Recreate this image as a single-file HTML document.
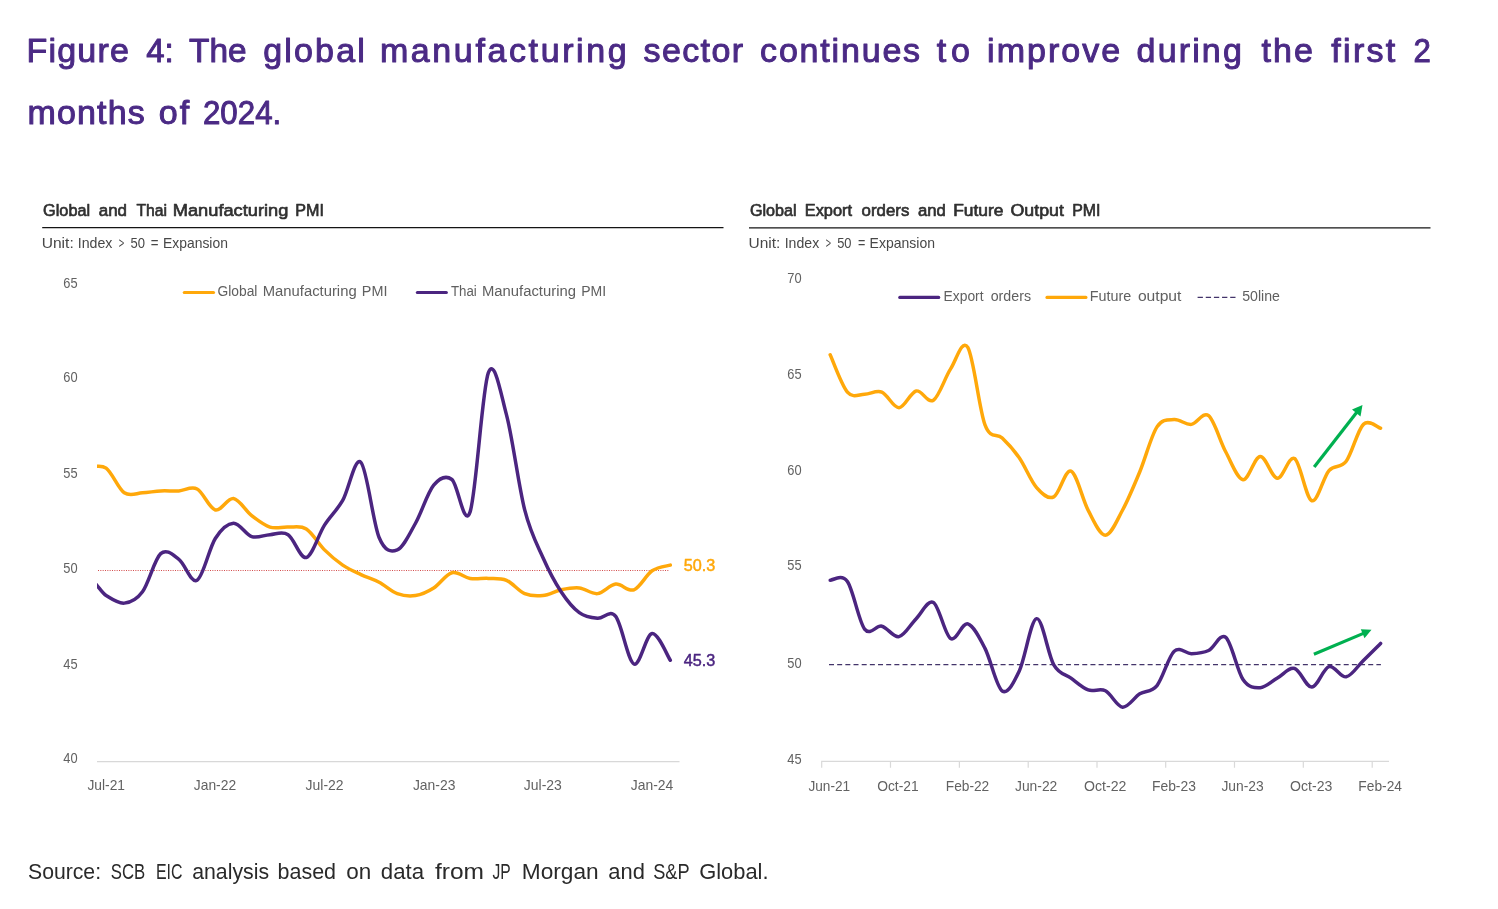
<!DOCTYPE html>
<html lang="en">
<head>
<meta charset="utf-8">
<title>Figure 4: The global manufacturing sector continues to improve during the first 2 months of 2024.</title>
<style>
html,body{margin:0;padding:0;background:#fff;}
body{width:1498px;height:909px;overflow:hidden;font-family:"Liberation Sans",sans-serif;}
svg{display:block;}
text{font-family:"Liberation Sans",sans-serif;white-space:pre;}
.ttl{font-size:34px;fill:#4b2a85;stroke:#4b2a85;stroke-width:1.0px;stroke-linejoin:round;}
.ct{font-size:16.3px;fill:#303030;stroke:#303030;stroke-width:0.65px;stroke-linejoin:round;}
.unit{font-size:14.2px;fill:#484848;}
.ax{font-size:14.8px;fill:#626262;}
.lg{font-size:15.2px;fill:#606060;}
.src{font-size:21.5px;fill:#2a2a2a;}
.val{font-size:17.2px;stroke-width:0.5px;stroke-linejoin:round;}
.vy{fill:#ffa80a;stroke:#ffa80a;}
.vp{fill:#4b2580;stroke:#4b2580;}
</style>
</head>
<body>
<svg width="1498" height="909" viewBox="0 0 1498 909">
<rect width="1498" height="909" fill="#fff"/>

<!-- Title -->
<text class="ttl" y="61.7"><tspan x="26.50" style="letter-spacing:1.207px">Figure</tspan> <tspan x="146.30" textLength="27.47" lengthAdjust="spacingAndGlyphs">4:</tspan> <tspan x="189.10" textLength="57.59" lengthAdjust="spacingAndGlyphs">The</tspan> <tspan x="263.20" style="letter-spacing:2.182px">global</tspan> <tspan x="379.90" style="letter-spacing:2.613px">manufacturing</tspan> <tspan x="643.50" style="letter-spacing:1.387px">sector</tspan> <tspan x="760.10" style="letter-spacing:1.807px">continues</tspan> <tspan x="936.70" style="letter-spacing:4.954px">to</tspan> <tspan x="987.10" style="letter-spacing:2.031px">improve</tspan> <tspan x="1136.60" style="letter-spacing:2.139px">during</tspan> <tspan x="1261.50" style="letter-spacing:2.072px">the</tspan> <tspan x="1331.30" style="letter-spacing:2.294px">first</tspan> <tspan x="1413.48" textLength="17.35" lengthAdjust="spacingAndGlyphs">2</tspan></text>
<text class="ttl" y="124.2"><tspan x="27.50" style="letter-spacing:1.141px">months</tspan> <tspan x="158.80" style="letter-spacing:2.091px">of</tspan> <tspan x="202.98" textLength="78.27" lengthAdjust="spacingAndGlyphs">2024.</tspan></text>

<!-- Left chart -->
<g id="left">
<line x1="42.2" y1="227.6" x2="723.5" y2="227.6" stroke="#141414" stroke-width="1.3"/>
<line x1="97" y1="761.6" x2="679.5" y2="761.6" stroke="#d8d8d8" stroke-width="1.15"/>
<line x1="98" y1="570.5" x2="669.5" y2="570.5" stroke="#d24a4a" stroke-width="1" stroke-dasharray="1 1.3333"/>
<line x1="184.3" y1="292.5" x2="213.5" y2="292.5" stroke="#ffa80a" stroke-width="3.2" stroke-linecap="round"/>
<line x1="417.4" y1="292.5" x2="446.3" y2="292.5" stroke="#4b2580" stroke-width="3.2" stroke-linecap="round"/>
<text class="ct" y="216.4"><tspan x="43.12" textLength="46.97" lengthAdjust="spacingAndGlyphs">Global</tspan> <tspan x="98.73" textLength="28.25" lengthAdjust="spacingAndGlyphs">and</tspan> <tspan x="136.52" textLength="30.55" lengthAdjust="spacingAndGlyphs">Thai</tspan> <tspan x="172.81" textLength="115.55" lengthAdjust="spacingAndGlyphs">Manufacturing</tspan> <tspan x="295.33" textLength="28.66" lengthAdjust="spacingAndGlyphs">PMI</tspan></text>
<text class="unit" y="247.5"><tspan x="41.70" textLength="32.03" lengthAdjust="spacingAndGlyphs">Unit:</tspan> <tspan x="77.70" textLength="34.69" lengthAdjust="spacingAndGlyphs">Index</tspan> <tspan x="118.70" textLength="5.49" lengthAdjust="spacingAndGlyphs">&gt;</tspan> <tspan x="130.40" textLength="14.50" lengthAdjust="spacingAndGlyphs">50</tspan> <tspan x="150.70" textLength="7.77" lengthAdjust="spacingAndGlyphs">=</tspan> <tspan x="163.02" textLength="64.85" lengthAdjust="spacingAndGlyphs">Expansion</tspan></text>
<text class="ax" y="287.7"><tspan x="63.30" textLength="14.30" lengthAdjust="spacingAndGlyphs">65</tspan></text>
<text class="ax" y="381.9"><tspan x="63.30" textLength="14.30" lengthAdjust="spacingAndGlyphs">60</tspan></text>
<text class="ax" y="477.9"><tspan x="63.30" textLength="14.30" lengthAdjust="spacingAndGlyphs">55</tspan></text>
<text class="ax" y="573.1"><tspan x="63.30" textLength="14.30" lengthAdjust="spacingAndGlyphs">50</tspan></text>
<text class="ax" y="668.6"><tspan x="63.30" textLength="14.30" lengthAdjust="spacingAndGlyphs">45</tspan></text>
<text class="ax" y="763.1"><tspan x="63.30" textLength="14.30" lengthAdjust="spacingAndGlyphs">40</tspan></text>
<text class="ax" y="790.2"><tspan x="87.40" textLength="37.61" lengthAdjust="spacingAndGlyphs">Jul-21</tspan></text>
<text class="ax" y="790.2"><tspan x="193.80" textLength="42.31" lengthAdjust="spacingAndGlyphs">Jan-22</tspan></text>
<text class="ax" y="790.2"><tspan x="305.60" textLength="38.02" lengthAdjust="spacingAndGlyphs">Jul-22</tspan></text>
<text class="ax" y="790.2"><tspan x="412.90" textLength="42.52" lengthAdjust="spacingAndGlyphs">Jan-23</tspan></text>
<text class="ax" y="790.2"><tspan x="523.80" textLength="38.02" lengthAdjust="spacingAndGlyphs">Jul-23</tspan></text>
<text class="ax" y="790.2"><tspan x="630.80" textLength="42.52" lengthAdjust="spacingAndGlyphs">Jan-24</tspan></text>
<text class="lg" y="296.1"><tspan x="217.50" textLength="39.94" lengthAdjust="spacingAndGlyphs">Global</tspan> <tspan x="262.72" textLength="93.91" lengthAdjust="spacingAndGlyphs">Manufacturing</tspan> <tspan x="361.85" textLength="25.60" lengthAdjust="spacingAndGlyphs">PMI</tspan></text>
<text class="lg" y="296.1"><tspan x="450.90" textLength="25.83" lengthAdjust="spacingAndGlyphs">Thai</tspan> <tspan x="482.02" textLength="93.91" lengthAdjust="spacingAndGlyphs">Manufacturing</tspan> <tspan x="581.18" textLength="24.95" lengthAdjust="spacingAndGlyphs">PMI</tspan></text>
<text class="val vy" y="570.8"><tspan x="683.75" textLength="31.53" lengthAdjust="spacingAndGlyphs">50.3</tspan></text>
<text class="val vp" y="665.5"><tspan x="683.75" textLength="31.53" lengthAdjust="spacingAndGlyphs">45.3</tspan></text>

<clipPath id="clipL"><rect x="97" y="260" width="600" height="520"/></clipPath>
<g clip-path="url(#clipL)" fill="none" stroke-width="3.5" stroke-linecap="round" stroke-linejoin="round">
<path stroke="#ffa80a" d="M69.70 456.68 C72.73 458.26 81.83 464.29 87.90 466.19 C93.97 468.09 100.03 463.65 106.10 468.09 C112.17 472.53 118.23 488.70 124.30 492.82 C130.37 496.94 136.43 493.13 142.50 492.82 C148.57 492.50 154.63 491.23 160.70 490.92 C166.77 490.60 172.83 491.23 178.90 490.92 C184.97 490.60 191.03 485.84 197.10 489.01 C203.17 492.18 209.23 508.35 215.30 509.94 C221.37 511.52 227.43 497.57 233.50 498.52 C239.57 499.48 245.63 510.89 251.70 515.64 C257.77 520.40 263.83 525.15 269.90 527.05 C275.97 528.96 282.03 526.74 288.10 527.05 C294.17 527.37 300.23 525.15 306.30 528.96 C312.37 532.76 318.43 543.85 324.50 549.88 C330.57 555.90 336.63 560.97 342.70 565.09 C348.77 569.22 354.83 571.75 360.90 574.60 C366.97 577.46 373.03 579.04 379.10 582.21 C385.17 585.38 391.23 591.40 397.30 593.62 C403.37 595.84 409.43 596.48 415.50 595.53 C421.57 594.57 427.63 591.72 433.70 587.92 C439.77 584.11 445.83 574.29 451.90 572.70 C457.97 571.12 464.03 577.46 470.10 578.41 C476.17 579.36 482.23 578.09 488.30 578.41 C494.37 578.73 500.43 577.77 506.50 580.31 C512.57 582.85 518.63 591.09 524.70 593.62 C530.77 596.16 536.83 596.16 542.90 595.53 C548.97 594.89 555.03 591.09 561.10 589.82 C567.17 588.55 573.23 587.28 579.30 587.92 C585.37 588.55 591.43 594.26 597.50 593.62 C603.57 592.99 609.63 584.75 615.70 584.11 C621.77 583.48 627.83 592.04 633.90 589.82 C639.97 587.60 646.03 574.92 652.10 570.80 C658.17 566.68 667.27 566.05 670.30 565.09"/>
<path stroke="#4b2580" d="M69.70 612.64 C72.73 607.25 81.83 583.16 87.90 580.31 C93.97 577.46 100.03 591.72 106.10 595.53 C112.17 599.33 118.23 603.77 124.30 603.13 C130.37 602.50 136.43 599.96 142.50 591.72 C148.57 583.48 154.63 559.07 160.70 553.68 C166.77 548.29 172.83 554.95 178.90 559.39 C184.97 563.83 191.03 583.80 197.10 580.31 C203.17 576.82 209.23 547.98 215.30 538.47 C221.37 528.96 227.43 523.57 233.50 523.25 C239.57 522.93 245.63 534.66 251.70 536.56 C257.77 538.47 263.83 534.98 269.90 534.66 C275.97 534.35 282.03 530.86 288.10 534.66 C294.17 538.47 300.23 559.07 306.30 557.49 C312.37 555.90 318.43 534.66 324.50 525.15 C330.57 515.64 336.63 510.89 342.70 500.43 C348.77 489.96 354.83 456.20 360.90 462.39 C366.97 468.57 373.03 522.93 379.10 537.51 C385.17 552.10 391.23 552.26 397.30 549.88 C403.37 547.50 409.43 534.03 415.50 523.25 C421.57 512.47 427.63 492.50 433.70 485.21 C439.77 477.92 445.83 475.07 451.90 479.50 C457.97 483.94 464.03 529.59 470.10 511.84 C476.17 494.09 482.23 389.16 488.30 372.99 C494.37 356.83 500.43 392.01 506.50 414.84 C512.57 437.66 518.63 486.16 524.70 509.94 C530.77 533.71 536.83 543.86 542.90 557.49 C548.97 571.12 555.03 582.53 561.10 591.72 C567.17 600.91 573.23 608.21 579.30 612.64 C585.37 617.08 591.43 617.72 597.50 618.35 C603.57 618.98 609.63 608.84 615.70 616.45 C621.77 624.06 627.83 661.14 633.90 664.00 C639.97 666.85 646.03 634.20 652.10 633.57 C658.17 632.93 667.27 655.76 670.30 660.19"/>
</g>
</g>

<!-- Right chart -->
<g id="right">
<line x1="749" y1="227.9" x2="1430.5" y2="227.9" stroke="#141414" stroke-width="1.3"/>
<path d="M821.7 767.8V761.4H1389 M890.5 761.4v6.4 M959.4 761.4v6.4 M1028.2 761.4v6.4 M1097 761.4v6.4 M1165.7 761.4v6.4 M1234.5 761.4v6.4 M1303.3 761.4v6.4 M1372.2 761.4v6.4" fill="none" stroke="#d9d9d9" stroke-width="1.2"/>
<line x1="829" y1="664.7" x2="1380.9" y2="664.7" stroke="#43346a" stroke-width="1.3" stroke-dasharray="5 3.17"/>
<line x1="899.8" y1="297.4" x2="938.7" y2="297.4" stroke="#4b2580" stroke-width="3.2" stroke-linecap="round"/>
<line x1="1047" y1="297.4" x2="1085.9" y2="297.4" stroke="#ffa80a" stroke-width="3.2" stroke-linecap="round"/>
<line x1="1197.6" y1="297.4" x2="1235.5" y2="297.4" stroke="#43346a" stroke-width="1.4" stroke-dasharray="5.3 2.85"/>
<text class="ct" y="216.4"><tspan x="749.93" textLength="46.66" lengthAdjust="spacingAndGlyphs">Global</tspan> <tspan x="804.72" textLength="47.38" lengthAdjust="spacingAndGlyphs">Export</tspan> <tspan x="861.62" textLength="47.70" lengthAdjust="spacingAndGlyphs">orders</tspan> <tspan x="917.93" textLength="27.83" lengthAdjust="spacingAndGlyphs">and</tspan> <tspan x="953.15" textLength="50.38" lengthAdjust="spacingAndGlyphs">Future</tspan> <tspan x="1010.53" textLength="53.33" lengthAdjust="spacingAndGlyphs">Output</tspan> <tspan x="1072.15" textLength="28.24" lengthAdjust="spacingAndGlyphs">PMI</tspan></text>
<text class="unit" y="247.7"><tspan x="748.51" textLength="31.82" lengthAdjust="spacingAndGlyphs">Unit:</tspan> <tspan x="784.71" textLength="34.49" lengthAdjust="spacingAndGlyphs">Index</tspan> <tspan x="825.70" textLength="5.28" lengthAdjust="spacingAndGlyphs">&gt;</tspan> <tspan x="837.20" textLength="14.30" lengthAdjust="spacingAndGlyphs">50</tspan> <tspan x="858.00" textLength="7.35" lengthAdjust="spacingAndGlyphs">=</tspan> <tspan x="869.61" textLength="65.37" lengthAdjust="spacingAndGlyphs">Expansion</tspan></text>
<text class="ax" y="282.9"><tspan x="787.30" textLength="14.30" lengthAdjust="spacingAndGlyphs">70</tspan></text>
<text class="ax" y="378.6"><tspan x="787.30" textLength="14.30" lengthAdjust="spacingAndGlyphs">65</tspan></text>
<text class="ax" y="475.3"><tspan x="787.30" textLength="14.30" lengthAdjust="spacingAndGlyphs">60</tspan></text>
<text class="ax" y="570.4"><tspan x="787.30" textLength="14.30" lengthAdjust="spacingAndGlyphs">55</tspan></text>
<text class="ax" y="667.7"><tspan x="787.30" textLength="14.30" lengthAdjust="spacingAndGlyphs">50</tspan></text>
<text class="ax" y="764.2"><tspan x="787.30" textLength="14.30" lengthAdjust="spacingAndGlyphs">45</tspan></text>
<text class="ax" y="791.3"><tspan x="808.40" textLength="41.71" lengthAdjust="spacingAndGlyphs">Jun-21</tspan></text>
<text class="ax" y="791.3"><tspan x="877.20" textLength="41.51" lengthAdjust="spacingAndGlyphs">Oct-21</tspan></text>
<text class="ax" y="791.3"><tspan x="945.77" textLength="43.44" lengthAdjust="spacingAndGlyphs">Feb-22</tspan></text>
<text class="ax" y="791.3"><tspan x="1015.00" textLength="42.31" lengthAdjust="spacingAndGlyphs">Jun-22</tspan></text>
<text class="ax" y="791.3"><tspan x="1084.00" textLength="42.32" lengthAdjust="spacingAndGlyphs">Oct-22</tspan></text>
<text class="ax" y="791.3"><tspan x="1151.96" textLength="43.95" lengthAdjust="spacingAndGlyphs">Feb-23</tspan></text>
<text class="ax" y="791.3"><tspan x="1221.40" textLength="42.31" lengthAdjust="spacingAndGlyphs">Jun-23</tspan></text>
<text class="ax" y="791.3"><tspan x="1290.10" textLength="42.22" lengthAdjust="spacingAndGlyphs">Oct-23</tspan></text>
<text class="ax" y="791.3"><tspan x="1358.37" textLength="43.64" lengthAdjust="spacingAndGlyphs">Feb-24</tspan></text>
<text class="lg" y="300.8"><tspan x="943.59" textLength="40.00" lengthAdjust="spacingAndGlyphs">Export</tspan> <tspan x="990.70" textLength="40.32" lengthAdjust="spacingAndGlyphs">orders</tspan></text>
<text class="lg" y="300.8"><tspan x="1089.86" textLength="41.47" lengthAdjust="spacingAndGlyphs">Future</tspan> <tspan x="1137.90" textLength="43.50" lengthAdjust="spacingAndGlyphs">output</tspan></text>
<text class="lg" y="300.8"><tspan x="1242.20" textLength="37.72" lengthAdjust="spacingAndGlyphs">50line</tspan></text>

<g fill="none" stroke-width="3.5" stroke-linecap="round" stroke-linejoin="round">
<path stroke="#ffa80a" d="M830.20 354.79 C833.07 361.01 841.67 385.52 847.40 392.10 C853.13 398.67 858.87 394.22 864.60 394.22 C870.33 394.22 876.07 389.84 881.80 392.10 C887.53 394.35 893.27 407.95 899.00 407.75 C904.73 407.56 910.47 392.19 916.20 390.94 C921.93 389.68 927.67 403.89 933.40 400.22 C939.13 396.54 944.87 377.70 950.60 368.90 C956.33 360.11 962.07 338.10 967.80 347.44 C973.53 356.79 979.27 409.85 985.00 424.96 C990.73 440.07 996.47 432.59 1002.20 438.10 C1007.93 443.61 1013.67 449.76 1019.40 458.01 C1025.13 466.26 1030.87 481.11 1036.60 487.59 C1042.33 494.06 1048.07 499.60 1053.80 496.87 C1059.53 494.13 1065.27 468.90 1071.00 471.16 C1076.73 473.41 1082.47 499.73 1088.20 510.40 C1093.93 521.06 1099.67 535.20 1105.40 535.14 C1111.13 535.07 1116.87 520.58 1122.60 510.01 C1128.33 499.44 1134.07 485.59 1139.80 471.74 C1145.53 457.88 1151.27 435.59 1157.00 426.89 C1162.73 418.19 1168.47 419.96 1174.20 419.55 C1179.93 419.13 1185.67 425.02 1191.40 424.38 C1197.13 423.73 1202.87 411.07 1208.60 415.68 C1214.33 420.29 1220.07 441.36 1225.80 452.02 C1231.53 462.68 1237.27 478.92 1243.00 479.66 C1248.73 480.40 1254.47 456.69 1260.20 456.47 C1265.93 456.24 1271.67 477.95 1277.40 478.31 C1283.13 478.66 1288.87 454.86 1294.60 458.59 C1300.33 462.33 1306.07 498.73 1311.80 500.73 C1317.53 502.73 1323.27 477.15 1329.00 470.58 C1334.73 464.00 1340.47 469.00 1346.20 461.30 C1351.93 453.60 1357.67 429.89 1363.40 424.38 C1369.13 418.87 1377.73 427.60 1380.60 428.24"/>
<path stroke="#4b2580" d="M830.20 580.18 C833.07 580.40 841.67 573.38 847.40 581.53 C853.13 589.68 858.87 621.64 864.60 629.08 C870.33 636.52 876.07 624.93 881.80 626.18 C887.53 627.44 893.27 637.88 899.00 636.62 C904.73 635.37 910.47 624.35 916.20 618.64 C921.93 612.94 927.67 599.09 933.40 602.41 C939.13 605.73 944.87 634.98 950.60 638.55 C956.33 642.13 962.07 622.22 967.80 623.86 C973.53 625.51 979.27 637.23 985.00 648.41 C990.73 659.59 996.47 687.23 1002.20 690.94 C1007.93 694.64 1013.67 682.69 1019.40 670.64 C1025.13 658.59 1030.87 619.61 1036.60 618.64 C1042.33 617.68 1048.07 654.92 1053.80 664.84 C1059.53 674.77 1065.27 673.99 1071.00 678.18 C1076.73 682.37 1082.47 687.88 1088.20 689.97 C1093.93 692.07 1099.67 687.88 1105.40 690.75 C1111.13 693.61 1116.87 706.66 1122.60 707.18 C1128.33 707.69 1134.07 697.45 1139.80 693.84 C1145.53 690.23 1151.27 692.61 1157.00 685.53 C1162.73 678.44 1168.47 656.63 1174.20 651.31 C1179.93 646.00 1185.67 653.76 1191.40 653.63 C1197.13 653.50 1202.87 653.25 1208.60 650.54 C1214.33 647.83 1220.07 632.56 1225.80 637.39 C1231.53 642.23 1237.27 671.16 1243.00 679.53 C1248.73 687.91 1254.47 687.91 1260.20 687.65 C1265.93 687.39 1271.67 681.18 1277.40 677.99 C1283.13 674.80 1288.87 667.00 1294.60 668.52 C1300.33 670.03 1306.07 687.39 1311.80 687.07 C1317.53 686.75 1323.27 668.29 1329.00 666.58 C1334.73 664.88 1340.47 677.86 1346.20 676.83 C1351.93 675.80 1357.67 665.97 1363.40 660.40 C1369.13 654.82 1377.73 646.22 1380.60 643.39"/>
</g>
<!-- arrows -->
<g stroke="#00b050" stroke-width="3.2" fill="#00b050">
<line x1="1314.2" y1="467" x2="1357" y2="412"/>
<line x1="1313.9" y1="654.3" x2="1364" y2="633.1"/>
</g>
<polygon points="1362.5,405 1360.5,416.5 1352,409.5" fill="#00b050"/>
<polygon points="1371.5,629.8 1364.5,638.2 1360.8,629.2" fill="#00b050"/>
</g>

<!-- Source -->
<text class="src" y="878.8"><tspan x="28.00" textLength="73.06" lengthAdjust="spacingAndGlyphs">Source:</tspan> <tspan x="110.80" textLength="34.47" lengthAdjust="spacingAndGlyphs">SCB</tspan> <tspan x="155.96" textLength="26.53" lengthAdjust="spacingAndGlyphs">EIC</tspan> <tspan x="192.20" textLength="76.84" lengthAdjust="spacingAndGlyphs">analysis</tspan> <tspan x="277.50" textLength="58.56" lengthAdjust="spacingAndGlyphs">based</tspan> <tspan x="346.30" textLength="25.00" lengthAdjust="spacingAndGlyphs">on</tspan> <tspan x="380.80" textLength="43.26" lengthAdjust="spacingAndGlyphs">data</tspan> <tspan x="435.00" textLength="49.04" lengthAdjust="spacingAndGlyphs">from</tspan> <tspan x="492.50" textLength="17.94" lengthAdjust="spacingAndGlyphs">JP</tspan> <tspan x="521.75" textLength="76.86" lengthAdjust="spacingAndGlyphs">Morgan</tspan> <tspan x="608.30" textLength="36.58" lengthAdjust="spacingAndGlyphs">and</tspan> <tspan x="653.20" textLength="36.09" lengthAdjust="spacingAndGlyphs">S&amp;P</tspan> <tspan x="699.18" textLength="69.31" lengthAdjust="spacingAndGlyphs">Global.</tspan></text>
</svg>
</body>
</html>
